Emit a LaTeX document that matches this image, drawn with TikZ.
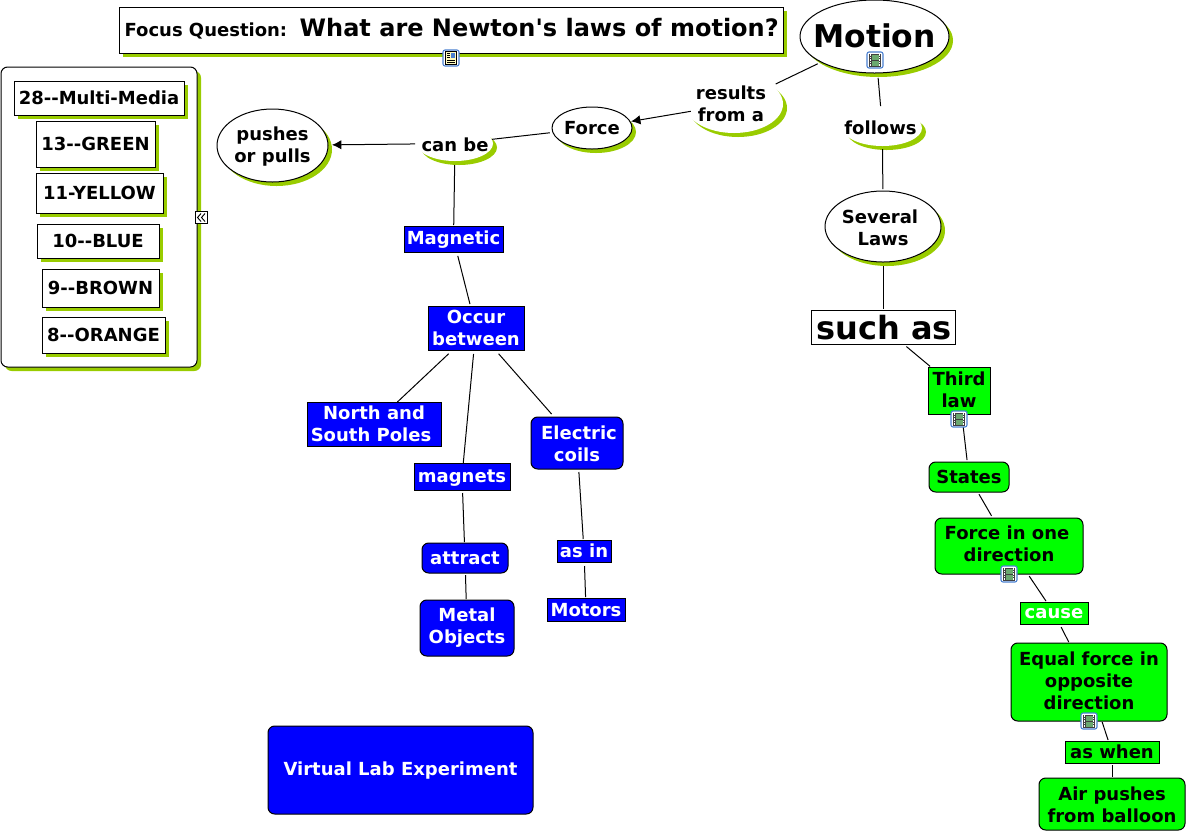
\documentclass[tikz,border=0pt]{standalone}
\usepackage{fontspec}
\newfontfamily\vf{DejaVu Sans}
\usetikzlibrary{shapes.geometric,shadows,arrows.meta}
\definecolor{shgreen}{HTML}{99CC00}
\definecolor{cblue}{HTML}{0000FF}
\definecolor{cgreen}{HTML}{00FF00}
\definecolor{iconblue}{HTML}{4A80D0}
\definecolor{filmgreen}{HTML}{6AA86F}
\tikzset{
  base/.style={inner sep=0pt,outer sep=0pt,align=center,font=\vf\bfseries\fontsize{13.5}{16.5}\selectfont,line width=0.75pt,
    execute at begin node={\rule[-3pt]{0pt}{15pt}},execute at end node={\rule[-3pt]{0pt}{15pt}}},
  dn/.style={execute at begin node={\rule[-3pt]{0pt}{\dimexpr15pt+1.5pt*\numexpr#1\relax\relax}}},
  dnb/.style={execute at begin node={\rule[-3pt]{0pt}{#1}}},
  up/.style={execute at begin node={\rule[\dimexpr-3pt-1.5pt*#1\relax]{0pt}{\dimexpr15pt+1.5pt*#1\relax}}},
  sh/.style={general shadow={shadow xshift=3pt,shadow yshift=-3pt,fill=shgreen}},
  whitebox/.style={base,rectangle,draw=black,fill=white,sh},
  plainbox/.style={base,rectangle,draw=black,fill=white},
  blueb/.style={base,rectangle,draw=black,fill=cblue,text=white},
  bluer/.style={blueb,rounded corners=5pt},
  greenb/.style={base,rectangle,draw=black,fill=cgreen,text=black},
  greenr/.style={greenb,rounded corners=5pt},
  oval/.style={base,ellipse,draw=black,fill=white,sh,inner sep=-14pt},
  phrase/.style={base,ellipse,fill=white,sh,inner sep=-14pt},
  conn/.style={line width=0.75pt,draw=black},
  arr/.style={conn,-{Latex[length=7pt,width=7pt]}},
}
\newcommand\bx[7][]{\node[#1,minimum width={(#5-#3)*0.75pt},minimum height={(#6-#4)*0.75pt}] (#2) at ({(#3+#5)/2},{(#4+#6)/2}) {#7};}
\newcommand\cn[5][conn]{\draw[#1,shorten <={#4*0.75pt},shorten >={#5*0.75pt}] (#2) -- (#3);}
\newcommand\filmicon[2]{\begin{scope}[shift={(#1,#2)}]
  \draw[iconblue,fill=white,line width=0.8pt,rounded corners=1.5pt] (-8,-8) rectangle (8,8);
  \fill[black!75] (-6,-6.5) rectangle (6,6.5);
  \fill[filmgreen] (-3.5,-5.5) rectangle (3.5,-0.5);
  \fill[filmgreen] (-3.5,0.5) rectangle (3.5,5.5);
  \foreach \yy in {-5,-2.5,0,2.5,5}{\fill[white] (-5.4,\yy-0.6) rectangle (-4.2,\yy+0.6);\fill[white] (4.2,\yy-0.6) rectangle (5.4,\yy+0.6);}
\end{scope}}
\newcommand\noteicon[2]{\begin{scope}[shift={(#1,#2)}]
  \draw[iconblue,fill=white,line width=0.8pt,rounded corners=1.5pt] (-8,-8) rectangle (8,8);
  \fill[yellow!25] (-5.5,-6.5) rectangle (5.5,6.5);
  \draw[black,line width=0.4pt] (-5.5,-6.5) rectangle (5.5,6.5);
  \fill[iconblue] (0,-5) rectangle (4,0);
  \foreach \yy in {-4.5,-2.5,-0.5}{\draw[black,line width=0.5pt] (-4,\yy) -- (-1,\yy);}
  \foreach \yy in {2,4}{\draw[black,line width=0.5pt] (-4,\yy) -- (4,\yy);}
\end{scope}}
\begin{document}
\begin{tikzpicture}[x=0.75pt,y=-0.75pt]
\useasboundingbox (0,0) rectangle (1187,833);
% legend
\bx[whitebox,rounded corners=5pt]{panel}{1}{67}{197}{367}{}
\bx[whitebox]{lg}{14}{81}{184}{115}{28--Multi-Media}
\bx[whitebox]{lh}{36}{121}{155}{167}{13--GREEN}
\bx[whitebox]{li}{36}{173}{163}{213}{11-YELLOW}
\bx[whitebox]{lj}{37}{224}{159}{258}{10--BLUE}
\bx[whitebox]{lk}{42}{269}{159}{307}{9--BROWN}
\bx[whitebox]{ll}{42}{317}{165}{353}{8--ORANGE}
\draw[black,fill=white,line width=0.75pt] (195.5,211.5) rectangle (207,223);
\draw[black,line width=0.7pt] (201,213.5) -- (197.5,217.5) -- (201,221.5) (205,213.5) -- (201.5,217.5) -- (205,221.5);
% focus
\bx[whitebox,up=1]{focus}{119}{7}{783}{53}{\hspace*{1pt}{\fontsize{13.5}{16}\selectfont Focus Question:\ \ }{\fontsize{18}{22}\selectfont What are Newton's laws of motion?}}
% right chain
\bx[phrase,dnb=32.8pt]{results}{685}{75}{783}{133}{results\hspace*{4.5pt}\\from a\hspace*{4.5pt}}
\bx[oval,dnb=23pt]{motion}{800}{0}{949}{73}{\fontsize{23.5}{28}\selectfont Motion}
\bx[phrase]{follows}{843}{110}{922}{146}{follows\hspace*{3pt}}
\bx[oval,dnb=34.3pt]{several}{825}{191}{941}{262}{Several\hspace*{4.5pt}\\Laws}
\bx[plainbox,dnb=24.5pt]{such}{811}{310}{955}{344}{\hspace*{1.5pt}\fontsize{24}{29}\selectfont such as}
\bx[greenb,dnb=31.3pt]{third}{928}{367}{990}{414}{Third\\law}
\bx[greenr]{states}{929}{462}{1009}{492}{States}
\bx[greenr]{fone}{935}{518}{1083}{574}{Force in one\hspace*{3pt}\\direction}
\bx[greenb,text=white,up=1]{cause}{1020}{603}{1088}{623}{cause}
\bx[greenr,dnb=47.8pt]{equal}{1011}{643}{1167}{721}{Equal force in\\opposite\\direction}
\bx[greenb]{aswhen}{1065}{741}{1159}{763}{as when}
\bx[greenr,dnb=34.3pt]{air}{1039}{778}{1185}{830}{Air pushes\\from balloon}
% left
\bx[oval]{force}{552}{107}{632}{149}{Force}
\bx[phrase,dn=2]{canbe}{417}{126}{493}{161}{can be}
\bx[oval,dnb=31.3pt]{pushes}{217}{109}{328}{182}{pushes\\or pulls}
\bx[blueb,up=1]{magnetic}{404}{226}{503}{252}{Magnetic}
\bx[blueb,dnb=32.8pt]{occur}{428}{306}{524}{350}{Occur\\between}
\bx[blueb,dnb=32.8pt]{north}{307}{402}{441}{446}{North and\\South Poles\hspace*{4.5pt}}
\bx[blueb]{magnets}{414}{463}{510}{490}{magnets}
\bx[bluer,dnb=34.3pt]{coils}{531}{417}{623}{469}{\hspace*{3pt}Electric\\coils}
\bx[bluer]{attract}{422}{543}{508}{573}{attract}
\bx[blueb]{asin}{557}{540}{611}{562}{as in}
\bx[bluer]{metal}{420}{600}{514}{656}{Metal\\Objects}
\bx[blueb,dn=1]{motors}{547}{598}{625}{621}{Motors}
\bx[bluer,up=1]{virtual}{268}{726}{533}{814}{Virtual Lab Experiment}
% connectors
\cn{motion}{results}{4}{4}
\cn{motion}{follows}{5}{4}
\cn{follows}{several}{3}{2}
\cn{several}{such}{4}{1}
\cn{such}{third}{4}{1}
\cn{third}{states}{13}{2}
\cn{states}{fone}{2.5}{2.5}
\cn{fone}{cause}{2.5}{1}
\cn{cause}{equal}{3.5}{1}
\cn{equal}{aswhen}{1}{1}
\cn{aswhen}{air}{2}{1}
\cn[arr]{results}{force}{-4}{1}
\cn{force}{canbe}{3}{0}
\cn[arr]{canbe}{pushes}{2}{4}
\cn{canbe}{magnetic}{4}{1}
\cn{magnetic}{occur}{4}{2}
\cn{occur}{north}{5.5}{0}
\cn{occur}{magnets}{4}{0}
\cn{occur}{coils}{5}{4}
\cn{magnets}{attract}{3}{1}
\cn{attract}{metal}{2}{1}
\cn{coils}{asin}{3}{1}
\cn{asin}{motors}{4}{1}
% icons
\noteicon{451}{58}
\filmicon{875}{60}
\filmicon{959}{419}
\filmicon{1009}{574}
\filmicon{1089}{721}
\end{tikzpicture}
\end{document}
